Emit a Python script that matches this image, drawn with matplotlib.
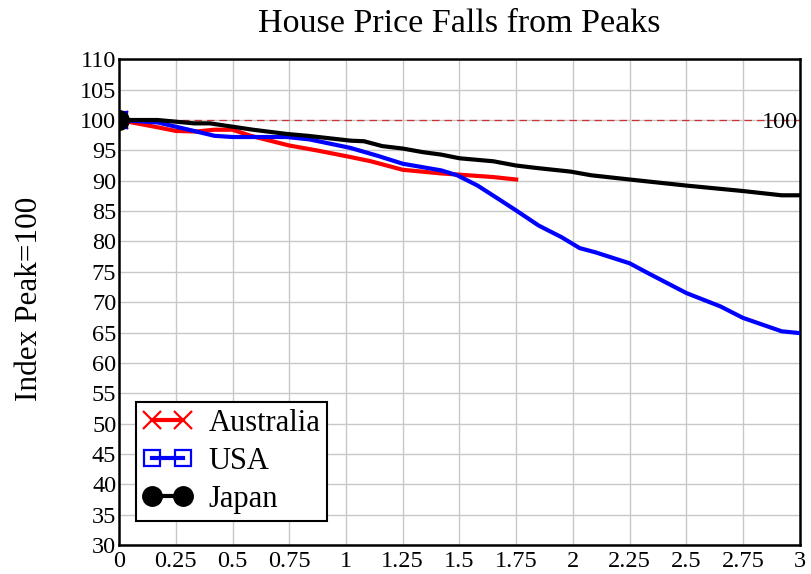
import numpy as np
import matplotlib.pyplot as plt

plt.rcParams['font.family'] = ['Liberation Serif', 'DejaVu Serif']

# years from peak / index (peak = 100)
aus_x = [0, 0.17, 0.25, 0.34, 0.42, 0.5, 0.58, 0.75, 0.87, 1.02, 1.11, 1.25, 1.42, 1.5, 1.65, 1.75]
aus_y = [100, 98.8, 98.2, 98.1, 98.4, 98.4, 97.4, 95.8, 95.0, 93.9, 93.2, 91.8, 91.2, 91.0, 90.6, 90.2]

usa_x = [0, 0.17, 0.33, 0.42, 0.5, 0.74, 0.84, 1.02, 1.14, 1.25, 1.42, 1.49, 1.58, 1.68, 1.75,
         1.85, 1.95, 2.03, 2.1, 2.25, 2.33, 2.5, 2.65, 2.75, 2.92, 3.0]
usa_y = [100, 99.6, 98.2, 97.4, 97.2, 97.2, 96.8, 95.4, 94.1, 92.8, 91.7, 90.9, 89.2, 86.8, 85.1,
         82.6, 80.7, 78.9, 78.2, 76.4, 74.8, 71.5, 69.3, 67.4, 65.2, 64.9]

jpn_x = [0, 0.17, 0.33, 0.4, 0.5, 0.59, 0.74, 0.83, 1.02, 1.08, 1.16, 1.25, 1.34, 1.42, 1.5,
         1.65, 1.75, 1.84, 1.99, 2.08, 2.25, 2.5, 2.75, 2.92, 3.0]
jpn_y = [100, 100, 99.45, 99.45, 98.9, 98.4, 97.7, 97.4, 96.6, 96.5, 95.7, 95.3, 94.7, 94.3, 93.7,
         93.2, 92.5, 92.1, 91.5, 90.9, 90.2, 89.2, 88.3, 87.6, 87.6]

fig = plt.figure(figsize=(8.12, 5.74), dpi=100)
ax = fig.add_axes([0.1466, 0.0505, 0.8384, 0.8462])

ax.axhline(100, color='#cc3333', lw=0.9, dashes=(6, 4), zorder=2)
ax.text(2.99, 99.6, '100', ha='right', va='center', fontsize=17.5, zorder=3)

ax.plot(aus_x, aus_y, color='red', lw=3, marker='x', ms=13, mew=1.6,
        markevery=[0], label='Australia', zorder=4)
ax.plot(usa_x, usa_y, color='blue', lw=3, marker='s', ms=12, mfc='none', mew=1.6,
        markevery=[0], label='USA', zorder=5)
ax.plot(jpn_x, jpn_y, color='black', lw=3, marker='o', ms=14,
        markevery=[0], label='Japan', zorder=6)

ax.set_xlim(0, 3)
ax.set_ylim(30, 110)
ax.set_xticks(np.arange(0, 3.01, 0.25))
ax.set_xticklabels(['%g' % v for v in np.arange(0, 3.01, 0.25)])
ax.set_yticks(np.arange(30, 111, 5))
ax.tick_params(length=0, labelsize=17.5)
ax.tick_params(axis='x', pad=4)
ax.tick_params(axis='y', pad=2)
ax.grid(True, color='#c8c8c8', lw=1)
ax.set_axisbelow(True)
for s in ax.spines.values():
    s.set_linewidth(1.8)

ax.set_title('House Price Falls from Peaks', fontsize=24.5, pad=20)
fig.text(0.036, 0.48, 'Index Peak=100', rotation=90, ha='center', va='center', fontsize=22.5)

leg = ax.legend(loc='lower left', bbox_to_anchor=(0.025, 0.05), fontsize=22, numpoints=2,
                fancybox=False, framealpha=1, edgecolor='black', handlelength=1.6,
                borderpad=0.22, labelspacing=0.3, handletextpad=0.55, borderaxespad=0)
leg.get_frame().set_linewidth(1.5)

fig.savefig('out.png', dpi=100)
